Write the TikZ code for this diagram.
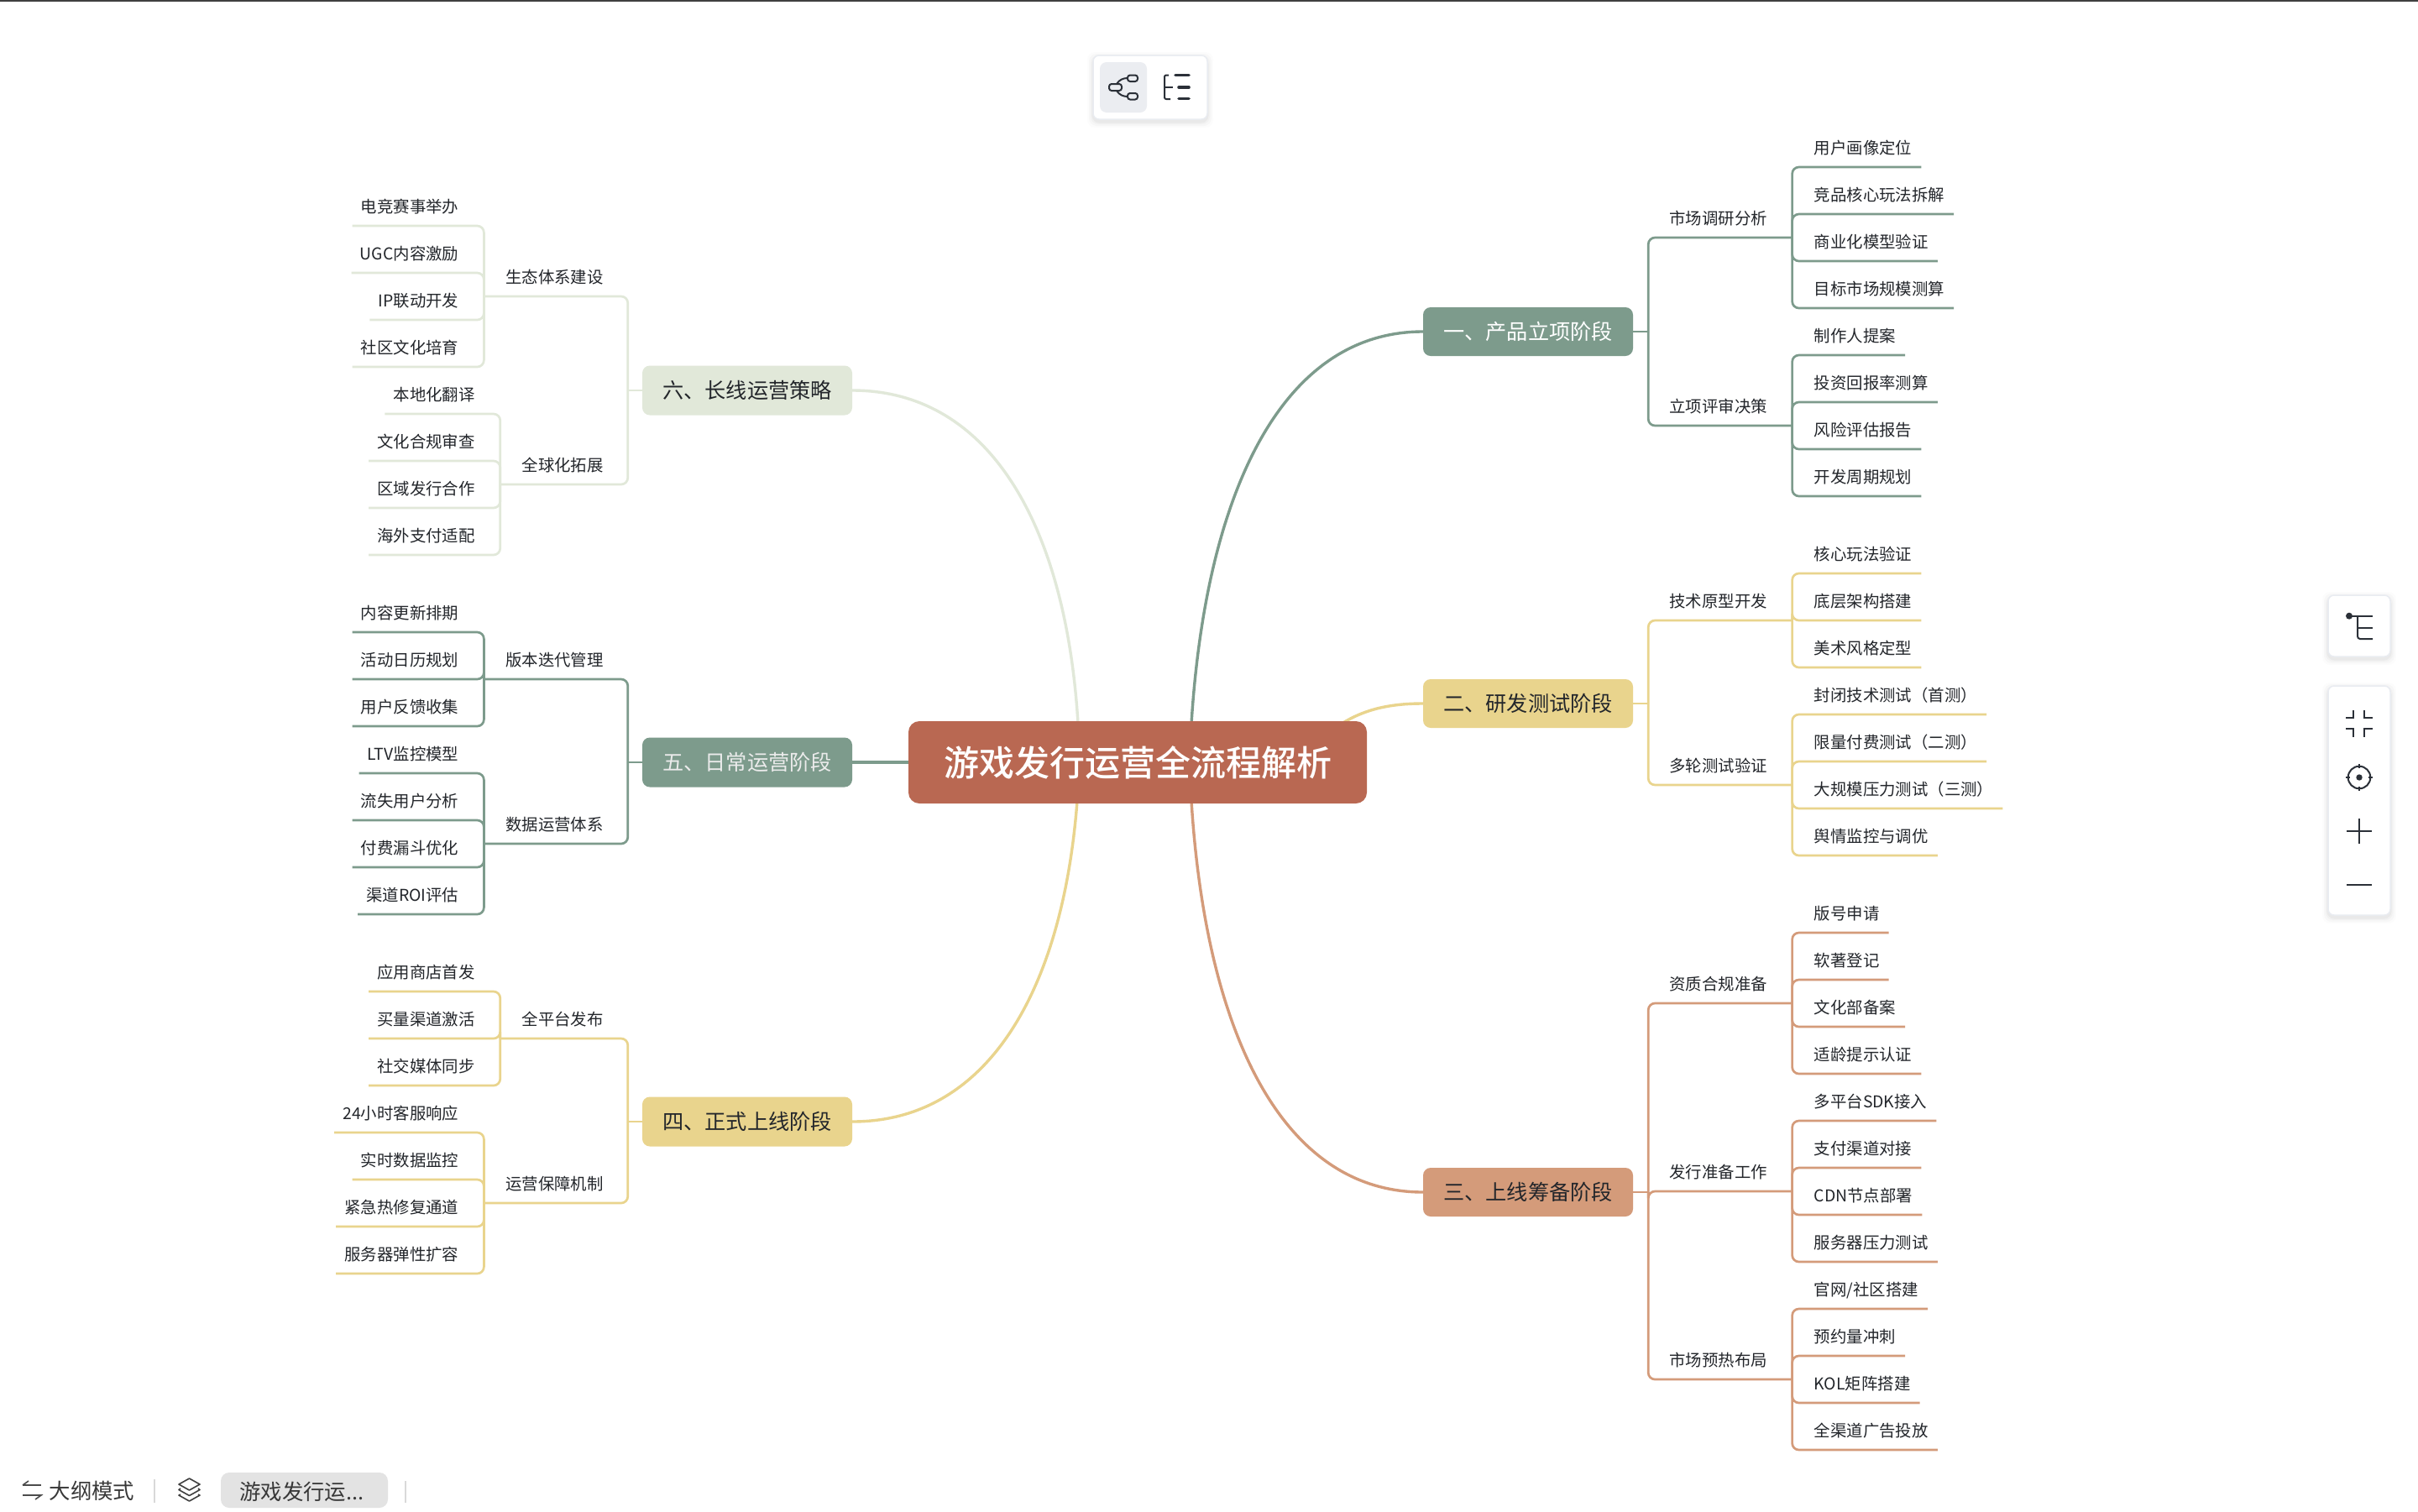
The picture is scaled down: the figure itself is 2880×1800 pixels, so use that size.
\documentclass[tikz,border=0pt]{standalone}
\usepackage{fontspec}
\setmainfont{Noto Sans CJK SC}
\newfontfamily\medfont{Noto Sans CJK SC Medium}
\usetikzlibrary{calc,backgrounds}
\definecolor{cCenter}{HTML}{B96852}
\definecolor{cGreen}{HTML}{7D9B8C}
\definecolor{cYellow}{HTML}{E9D48D}
\definecolor{cOrange}{HTML}{D49B7A}
\definecolor{cPale}{HTML}{E1E8D9}
\definecolor{cInk}{HTML}{23262B}
\definecolor{cIcon}{HTML}{2B3038}
\definecolor{cBorder}{HTML}{E9ECF1}
\definecolor{cActive}{HTML}{EBEDF1}
\newcommand\fs[1]{\fontsize{#1}{#1}\selectfont}
\tikzset{
  x=1pt,y=-1pt,
  nodetext/.style={inner sep=0pt,text depth=15.6pt,text height=15pt,text=cInk,font=\fs{19.4}},
  parR/.style={nodetext,anchor=south west,execute at begin node={\hspace*{25pt}},execute at end node={\hspace*{29.6pt}}},
  parL/.style={nodetext,anchor=south east,execute at begin node={\hspace*{25.6pt}},execute at end node={\hspace*{29pt}}},
  leafR/.style={nodetext,anchor=south west,execute at begin node={\hspace*{26pt}},execute at end node={\hspace*{11pt}}},
  leafL/.style={nodetext,anchor=south east,execute at begin node={\hspace*{10pt}},execute at end node={\hspace*{30pt}}},
  conn/.style={draw=#1,line width=2.7pt,rounded corners=8pt},
  stub/.style={draw=#1,line width=2.7pt},
  curve/.style={draw=#1,line width=3.4pt},
  stage/.style={fill=#1,rounded corners=9pt,minimum width=250pt,minimum height=58pt,inner sep=0pt,font=\fs{25.2}},
  panel/.style={fill=white,draw=cBorder,line width=1.5pt,rounded corners=7pt},
  icon/.style={draw=cIcon,line width=2pt},
  uitext/.style={inner sep=0pt,text=black!78,font=\fs{25.4}},
}
\newcommand\PR[5]{%
  \node[parR] (#3) at (#2v |- 0,#4) {#5};
  \draw[conn=#1] (#3.south east) -- (#3.south west) -- (#3.south west |- #2.east);
  \draw[stub=#1] (#2.east) -- (#2.east -| #3.south west);
}
\newcommand\PL[5]{%
  \node[parL] (#3) at (#2v |- 0,#4) {#5};
  \draw[conn=#1] (#3.south west) -- (#3.south east) -- (#3.south east |- #2.west);
  \draw[stub=#1] (#2.west) -- (#2.west -| #3.south east);
}
\newcommand\LR[5]{%
  \node[leafR] (#3) at (#2.south east |- 0,#4) {#5};
  \draw[conn=#1] (#3.south east) -- (#3.south west) -- (#3.south west |- #2.south east);
}
\newcommand\LL[5]{%
  \node[leafL] (#3) at (#2.south west |- 0,#4) {#5};
  \draw[conn=#1] (#3.south west) -- (#3.south east) -- (#3.south east |- #2.south west);
}
\newcommand\softshadow[4]{%
  \foreach \g/\o in {7/.012,5/.018,3/.025,1.5/.03}{
    \fill[black,opacity=\o,rounded corners=9pt] (#1-\g,#2-\g+3) rectangle (#3+\g,#4+\g+3);
  }
}
\begin{document}
\begin{tikzpicture}
\useasboundingbox (0,0) rectangle (2880,1800);
\draw[black!75,line width=1.6pt] (0,0.8) -- (2880,0.8);

% central node and stages
\node[stage=cCenter,rounded corners=13pt,minimum width=546pt,minimum height=98pt,text=white,font=\fs{42}\medfont] (root) at (1355,908) {游戏发行运营全流程解析};
\node[stage=cGreen,text=white] (s1) at (1820,395) {一、产品立项阶段};
\node[stage=cYellow,text=cInk] (s2) at (1820,838) {二、研发测试阶段};
\node[stage=cOrange,text=cInk] (s3) at (1820,1420) {三、上线筹备阶段};
\node[stage=cPale,text=cInk,minimum height=59pt] (s6) at (890,465) {六、长线运营策略};
\node[stage=cGreen,text=white!92!black,minimum height=59pt] (s5) at (890,908) {五、日常运营阶段};
\node[stage=cYellow,text=cInk,minimum height=59pt] (s4) at (890,1336) {四、正式上线阶段};
\coordinate (s1v) at ($(s1.east)+(18,0)$);
\coordinate (s2v) at ($(s2.east)+(18,0)$);
\coordinate (s3v) at ($(s3.east)+(18,0)$);
\coordinate (s4v) at ($(s4.west)+(-17,0)$);
\coordinate (s5v) at ($(s5.west)+(-17,0)$);
\coordinate (s6v) at ($(s6.west)+(-17,0)$);
\coordinate (rTR) at (1419,862);
\coordinate (rTS) at (1598,862);
\coordinate (rBR) at (1419,954);
\coordinate (rTL) at (1284,862);
\coordinate (rBL) at (1283,954);

\begin{pgfonlayer}{background}
\fill[white] (0,0) rectangle (2880,1800);
\draw[curve=cGreen] (rTR) .. controls (1436,590) and (1525,395) .. (s1.west);
\draw[curve=cYellow] (rTS) .. controls (1625,845) and (1655,838) .. (s2.west);
\draw[curve=cOrange] (rBR) .. controls (1436,1226) and (1525,1420) .. (s3.west);
\draw[curve=cPale] (rTL) .. controls (1270,630) and (1181,465) .. (s6.east);
\draw[curve=cYellow] (rBL) .. controls (1266,1177) and (1178,1336) .. (s4.east);
\draw[curve=cGreen] (s5.east) -- (root.west);
\end{pgfonlayer}

% stage 1
\PR{cGreen}{s1}{p11}{283}{市场调研分析}
\LR{cGreen}{p11}{l111}{199}{用户画像定位}
\LR{cGreen}{p11}{l112}{255}{竞品核心玩法拆解}
\LR{cGreen}{p11}{l113}{311}{商业化模型验证}
\LR{cGreen}{p11}{l114}{367}{目标市场规模测算}
\PR{cGreen}{s1}{p12}{507}{立项评审决策}
\LR{cGreen}{p12}{l121}{423}{制作人提案}
\LR{cGreen}{p12}{l122}{479}{投资回报率测算}
\LR{cGreen}{p12}{l123}{535}{风险评估报告}
\LR{cGreen}{p12}{l124}{591}{开发周期规划}
% stage 2
\PR{cYellow}{s2}{p21}{739}{技术原型开发}
\LR{cYellow}{p21}{l211}{683}{核心玩法验证}
\LR{cYellow}{p21}{l212}{739}{底层架构搭建}
\LR{cYellow}{p21}{l213}{795}{美术风格定型}
\PR{cYellow}{s2}{p22}{935}{多轮测试验证}
\LR{cYellow}{p22}{l221}{851}{封闭技术测试（首测）}
\LR{cYellow}{p22}{l222}{907}{限量付费测试（二测）}
\LR{cYellow}{p22}{l223}{963}{大规模压力测试（三测）}
\LR{cYellow}{p22}{l224}{1019}{舆情监控与调优}
% stage 3
\PR{cOrange}{s3}{p31}{1195}{资质合规准备}
\LR{cOrange}{p31}{l311}{1111}{版号申请}
\LR{cOrange}{p31}{l312}{1167}{软著登记}
\LR{cOrange}{p31}{l313}{1223}{文化部备案}
\LR{cOrange}{p31}{l314}{1279}{适龄提示认证}
\PR{cOrange}{s3}{p32}{1419}{发行准备工作}
\LR{cOrange}{p32}{l321}{1335}{多平台SDK接入}
\LR{cOrange}{p32}{l322}{1391}{支付渠道对接}
\LR{cOrange}{p32}{l323}{1447}{CDN节点部署}
\LR{cOrange}{p32}{l324}{1503}{服务器压力测试}
\PR{cOrange}{s3}{p33}{1643}{市场预热布局}
\LR{cOrange}{p33}{l331}{1559}{官网/社区搭建}
\LR{cOrange}{p33}{l332}{1615}{预约量冲刺}
\LR{cOrange}{p33}{l333}{1671}{KOL矩阵搭建}
\LR{cOrange}{p33}{l334}{1727}{全渠道广告投放}
% stage 6
\PL{cPale}{s6}{p61}{353}{生态体系建设}
\LL{cPale}{p61}{l611}{269}{电竞赛事举办}
\LL{cPale}{p61}{l612}{325}{UGC内容激励}
\LL{cPale}{p61}{l613}{381}{IP联动开发}
\LL{cPale}{p61}{l614}{437}{社区文化培育}
\PL{cPale}{s6}{p62}{577}{全球化拓展}
\LL{cPale}{p62}{l621}{493}{本地化翻译}
\LL{cPale}{p62}{l622}{549}{文化合规审查}
\LL{cPale}{p62}{l623}{605}{区域发行合作}
\LL{cPale}{p62}{l624}{661}{海外支付适配}
% stage 5
\PL{cGreen}{s5}{p51}{809}{版本迭代管理}
\LL{cGreen}{p51}{l511}{753}{内容更新排期}
\LL{cGreen}{p51}{l512}{809}{活动日历规划}
\LL{cGreen}{p51}{l513}{865}{用户反馈收集}
\PL{cGreen}{s5}{p52}{1005}{数据运营体系}
\LL{cGreen}{p52}{l521}{921}{LTV监控模型}
\LL{cGreen}{p52}{l522}{977}{流失用户分析}
\LL{cGreen}{p52}{l523}{1033}{付费漏斗优化}
\LL{cGreen}{p52}{l524}{1089}{渠道ROI评估}
% stage 4
\PL{cYellow}{s4}{p41}{1237}{全平台发布}
\LL{cYellow}{p41}{l411}{1181}{应用商店首发}
\LL{cYellow}{p41}{l412}{1237}{买量渠道激活}
\LL{cYellow}{p41}{l413}{1293}{社交媒体同步}
\PL{cYellow}{s4}{p42}{1433}{运营保障机制}
\LL{cYellow}{p42}{l421}{1349}{24小时客服响应}
\LL{cYellow}{p42}{l422}{1405}{实时数据监控}
\LL{cYellow}{p42}{l423}{1461}{紧急热修复通道}
\LL{cYellow}{p42}{l424}{1517}{服务器弹性扩容}

% top toolbar
\softshadow{1302}{66}{1438}{142}
\draw[panel] (1302,66) rectangle (1438,142);
\fill[cActive,rounded corners=8pt] (1310,74) rectangle (1366,134);
\draw[icon,rounded corners=3pt] (1321,100) rectangle (1336,108);
\draw[icon,rounded corners=3pt] (1343,89.5) rectangle (1355,97);
\draw[icon,rounded corners=3pt] (1343,111) rectangle (1355,118.5);
\draw[icon] (1330,100) .. controls (1333,95) and (1338,93) .. (1343,93);
\draw[icon] (1330,108) .. controls (1333,113) and (1338,115) .. (1343,115);
\draw[icon,rounded corners=2pt] (1392,89.5) -- (1387,89.5) -- (1387,118) -- (1394,118);
\draw[icon] (1387,104) -- (1397,104);
\draw[icon,line width=3.6pt,line cap=round] (1400,89.5) -- (1416,89.5);
\draw[icon,line width=3.6pt,line cap=round] (1404,104) -- (1416,104);
\draw[icon,line width=3.6pt,line cap=round] (1404,117.5) -- (1416,117.5);

% right panels
\softshadow{2773}{709}{2847}{782}
\draw[panel] (2773,709) rectangle (2847,782);
\fill[cIcon] (2798,733.7) circle[radius=4pt];
\draw[icon] (2798,733.7) -- (2826,733.7);
\draw[icon] (2808,747.7) -- (2826,747.7);
\draw[icon,rounded corners=3pt] (2808,733.7) -- (2808,761) -- (2826,761);
\softshadow{2773}{817}{2847}{1090}
\draw[panel] (2773,817) rectangle (2847,1090);
\draw[icon] (2794,855) -- (2803.3,855) -- (2803.3,846);
\draw[icon] (2816.3,846) -- (2816.3,855) -- (2826,855);
\draw[icon] (2794,868.3) -- (2803.3,868.3) -- (2803.3,877.7);
\draw[icon] (2816.3,877.7) -- (2816.3,868.3) -- (2826,868.3);
\draw[icon] (2810,926) circle[radius=13.3pt];
\fill[cIcon] (2810,926) circle[radius=3.7pt];
\draw[icon] (2810,910) -- (2810,915);
\draw[icon] (2810,937) -- (2810,942);
\draw[icon] (2794,926) -- (2799,926);
\draw[icon] (2821,926) -- (2826,926);
\draw[icon] (2795.3,990) -- (2824.7,990);
\draw[icon] (2810,975.3) -- (2810,1004.7);
\draw[icon] (2795.3,1054) -- (2824.7,1054);

% bottom bar
\draw[black!70,line width=1.6pt] (27,1769) -- (34,1764);
\draw[black!70,line width=1.6pt] (27,1769) -- (49,1769);
\draw[black!70,line width=1.6pt] (27,1781) -- (49,1781) -- (42,1786);
\node[uitext,anchor=west] (outline) at (58.5,1776) {大纲模式};
\draw[black!15,line width=2pt] (184,1762) -- (184,1790);
\draw[black!75,line width=1.6pt,line join=round] (225.5,1761) -- (238,1768) -- (225.5,1775) -- (213,1768) -- cycle;
\draw[black!75,line width=1.6pt,line join=round] (215,1773) -- (213,1774.5) -- (225.5,1781.5) -- (238,1774.5) -- (236,1773);
\draw[black!75,line width=1.6pt,line join=round] (215,1780) -- (213,1781) -- (225.5,1788) -- (238,1781) -- (236,1780);
\fill[black!11,rounded corners=10pt] (263,1754) rectangle (462,1796);
\node[uitext,anchor=west] (tab) at (285,1777) {游戏发行运...};
\draw[black!15,line width=2pt] (482.6,1764) -- (482.6,1790);
\end{tikzpicture}
\end{document}
